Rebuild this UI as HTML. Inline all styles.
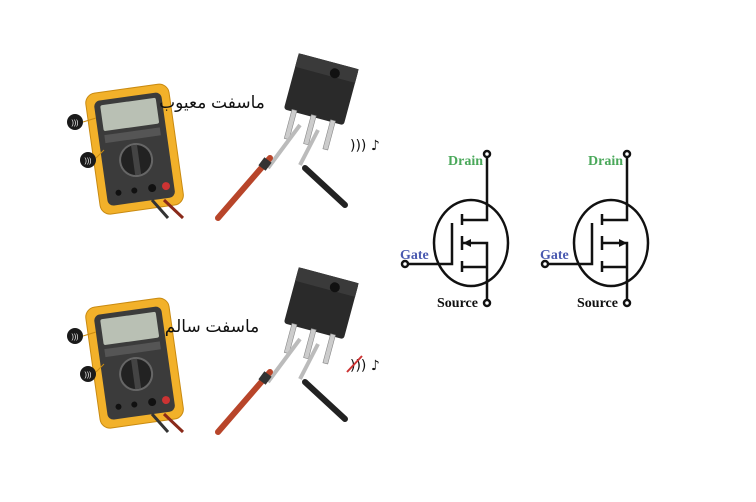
<!DOCTYPE html>
<html><head><meta charset="utf-8"><style>
html,body{margin:0;padding:0;background:#fff;width:756px;height:502px;overflow:hidden}
svg{display:block}
</style></head><body>
<svg width="756" height="502" viewBox="0 0 756 502" xmlns="http://www.w3.org/2000/svg">
<defs>
<g id="grp">
  <g transform="rotate(-8 135 145)">
    <rect x="92" y="88" width="84" height="122" rx="10" fill="#f2b12a" stroke="#c98a10"/>
    <rect x="100" y="96" width="68" height="106" rx="6" fill="#3b3b3b"/>
    <rect x="106" y="101" width="56" height="26" rx="2" fill="#b9c0b4"/>
    <rect x="106" y="131" width="56" height="8" fill="#555"/>
    <circle cx="134" cy="160" r="16" fill="#222" stroke="#666" stroke-width="2"/>
    <rect x="131" y="145" width="6" height="30" fill="#444"/>
    <circle cx="112" cy="190" r="3" fill="#111"/><circle cx="128" cy="190" r="3" fill="#111"/>
    <circle cx="146" cy="190" r="4" fill="#111"/><circle cx="160" cy="190" r="4" fill="#c33"/>
  </g>
  <line x1="152" y1="200" x2="168" y2="218" stroke="#333" stroke-width="3"/>
  <line x1="164" y1="200" x2="183" y2="218" stroke="#8a2a1a" stroke-width="3"/>
  <circle cx="75" cy="122" r="8" fill="#1a1a1a"/><text x="75" y="125" font-size="7" fill="#fff" text-anchor="middle" font-family="Liberation Sans,sans-serif">)))</text>
  <circle cx="88" cy="160" r="8" fill="#1a1a1a"/><text x="88" y="163" font-size="7" fill="#fff" text-anchor="middle" font-family="Liberation Sans,sans-serif">)))</text>
  <line x1="83" y1="122" x2="96" y2="118" stroke="#c98a10"/>
  <line x1="96" y1="158" x2="104" y2="150" stroke="#c98a10"/>
  <g transform="rotate(15 320 90)">
    <rect x="290" y="60" width="62" height="58" rx="3" fill="#2a2a2a"/>
    <rect x="290" y="60" width="62" height="14" fill="#3a3a3a"/>
    <circle cx="330" cy="70" r="5" fill="#111"/>
    <rect x="298" y="116" width="5" height="30" fill="#ccc" stroke="#888" stroke-width=".6"/>
    <rect x="318" y="116" width="5" height="30" fill="#ccc" stroke="#888" stroke-width=".6"/>
    <rect x="338" y="116" width="5" height="30" fill="#ccc" stroke="#888" stroke-width=".6"/>
  </g>
  <line x1="300" y1="125" x2="268" y2="168" stroke="#bbb" stroke-width="4"/>
  <line x1="318" y1="130" x2="300" y2="165" stroke="#bbb" stroke-width="4"/>
  <line x1="270" y1="158" x2="218" y2="218" stroke="#b8452a" stroke-width="6" stroke-linecap="round"/>
  <line x1="268" y1="160" x2="262" y2="168" stroke="#333" stroke-width="9"/>
  <line x1="305" y1="168" x2="345" y2="205" stroke="#222" stroke-width="6" stroke-linecap="round"/>
</g>
</defs>
<use href="#grp"/>
<text x="212" y="108" font-size="17" text-anchor="middle" font-family="Liberation Sans,'DejaVu Sans',sans-serif" fill="#111">ماسفت معیوب</text>
<text x="350" y="150" font-size="14" font-family="DejaVu Sans,sans-serif" fill="#111">))) ♪</text>
<use href="#grp" transform="translate(0,214)"/>
<text x="212" y="332" font-size="17" text-anchor="middle" font-family="Liberation Sans,'DejaVu Sans',sans-serif" fill="#111">ماسفت سالم</text>
<text x="350" y="370" font-size="14" font-family="DejaVu Sans,sans-serif" fill="#111">))) ♪</text>
<line x1="347" y1="372" x2="362" y2="356" stroke="#c33" stroke-width="2"/>

<g fill="none" stroke="#111" stroke-width="2.5">
  <ellipse cx="471" cy="243" rx="37" ry="43"/>
  <polyline points="487,157 487,220 462,220"/>
  <polyline points="462,243 487,243 487,300"/>
  <line x1="462" y1="267" x2="487" y2="267"/>
  <line x1="462" y1="214" x2="462" y2="225"/>
  <line x1="462" y1="236" x2="462" y2="250"/>
  <line x1="462" y1="261" x2="462" y2="272"/>
  <polyline points="452,223 452,264 408,264"/>
  <circle cx="487" cy="154" r="3" fill="#fff"/>
  <circle cx="487" cy="303" r="3" fill="#fff"/>
  <circle cx="405" cy="264" r="3" fill="#fff"/>
</g>
<polygon points="463,243 471,239 471,247" fill="#111"/>
<g fill="none" stroke="#111" stroke-width="2.5" transform="translate(140,0)">
  <ellipse cx="471" cy="243" rx="37" ry="43"/>
  <polyline points="487,157 487,220 462,220"/>
  <polyline points="462,243 487,243 487,300"/>
  <line x1="462" y1="267" x2="487" y2="267"/>
  <line x1="462" y1="214" x2="462" y2="225"/>
  <line x1="462" y1="236" x2="462" y2="250"/>
  <line x1="462" y1="261" x2="462" y2="272"/>
  <polyline points="452,223 452,264 408,264"/>
  <circle cx="487" cy="154" r="3" fill="#fff"/>
  <circle cx="487" cy="303" r="3" fill="#fff"/>
  <circle cx="405" cy="264" r="3" fill="#fff"/>
</g>
<polygon points="627,243 619,239 619,247" fill="#111"/>
<g font-family="Liberation Serif,serif" font-weight="bold" font-size="14">
  <text x="448" y="165" fill="#4aa85a">Drain</text>
  <text x="400" y="259" fill="#4a5ab0">Gate</text>
  <text x="437" y="307" fill="#111">Source</text>
  <text x="588" y="165" fill="#4aa85a">Drain</text>
  <text x="540" y="259" fill="#4a5ab0">Gate</text>
  <text x="577" y="307" fill="#111">Source</text>
</g>
</svg>
</body></html>
